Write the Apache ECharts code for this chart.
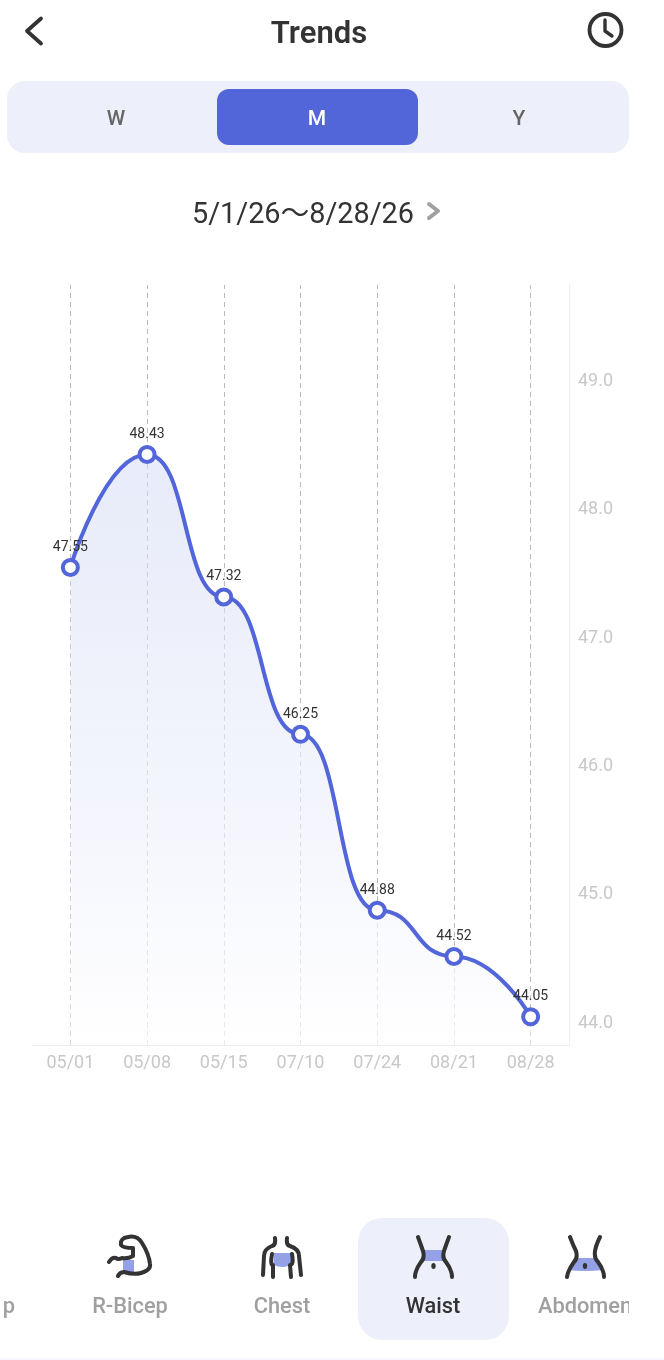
<!DOCTYPE html>
<html><head><meta charset="utf-8">
<script src="https://cdn.jsdelivr.net/npm/echarts@6/dist/echarts.min.js"></script>
<style>
html,body{margin:0;padding:0;background:#fff;width:664px;height:1360px;overflow:hidden;font-family:Roboto,"Noto Sans CJK SC",sans-serif}
#chart{position:absolute;left:0;top:0;width:664px;height:1360px}
.t{position:absolute;white-space:nowrap;transform:translate(-50%,-50%);line-height:1;will-change:transform}
.b{position:absolute}
svg{position:absolute;left:0;top:0;overflow:visible}
</style></head><body>
<div id="chart"></div>
<div class="b" style="left:7px;top:81px;width:622px;height:72px;border-radius:18px;background:#edeffb"></div>
<div class="b" style="left:217px;top:89px;width:201px;height:56px;border-radius:12px;background:#5266d9"></div>
<div class="b" style="left:358px;top:1218px;width:151px;height:122px;border-radius:24px;background:#edeffb"></div>
<div class="b" style="left:0;top:1358px;width:664px;height:2px;background:#f7f8fd"></div>
<div class="t" style="left:318.5px;top:31.5px;font-size:31px;font-weight:600;color:#333">Trends</div>
<div class="t" style="left:116px;top:117.5px;font-size:21px;font-weight:500;color:#666">W</div>
<div class="t" style="left:317px;top:117.5px;font-size:21px;font-weight:500;color:#fff">M</div>
<div class="t" style="left:519px;top:117.5px;font-size:21px;font-weight:500;color:#666">Y</div>
<div class="t" style="left:303px;top:212.5px;font-size:28.8px;color:#333">5/1/26～8/28/26</div>
<div class="t" style="left:130px;top:1306px;font-size:21.8px;font-weight:500;color:#a0a0a0">R-Bicep</div>
<div class="t" style="left:282px;top:1306px;font-size:21.8px;font-weight:500;color:#a0a0a0">Chest</div>
<div class="t" style="left:433px;top:1306px;font-size:21.8px;font-weight:500;color:#333">Waist</div>
<div class="b" style="left:520px;top:1290px;width:108.5px;height:34px;overflow:hidden"><div class="t" style="left:64.5px;top:16px;font-size:21.8px;font-weight:500;color:#a0a0a0">Abdomen</div></div>
<div class="b" style="left:4px;top:1290px;width:12px;height:34px;overflow:hidden"><div class="t" style="left:-26px;top:16px;font-size:21.8px;font-weight:500;color:#a0a0a0">L-Bicep</div></div>
<svg width="664" height="1360" fill="none" stroke-linecap="round" stroke-linejoin="round">
<path d="M41 18.5 L27 31 L41 43.5" stroke="#333" stroke-width="3.8"/>
<circle cx="605.5" cy="30" r="16" stroke="#333" stroke-width="3.8"/>
<path d="M605 20 V31 L612 36" stroke="#333" stroke-width="3.4"/>
<path d="M429 204 L438 211 L429 218" stroke="#a0a0a0" stroke-width="4"/>
<path d="M123 1260 H134 V1272 L123 1273 Z" fill="#94a1e6"/>
<path d="M118 1276 Q120 1272 124 1272 Q134 1275 141 1273 Q151 1270 150 1264 Q149 1254 142 1243 Q137 1235 128 1237 Q120 1238 121 1245 Q123 1248 133 1248 L133 1256 Q128 1259 122 1258 Q118 1260 116 1258 Q112 1257 109 1262" stroke="#333" stroke-width="4"/>
<path d="M274 1253 H292 V1265 Q285 1267 282 1267 Q278 1267 274 1265 Z" fill="#94a1e6"/>
<path d="M275 1238 Q276 1245 272 1246 Q264 1249 264 1256 L263 1275 M287 1238 Q286 1245 290 1246 Q299 1249 299 1256 L301 1275 M272 1254 Q270 1265 273 1265 L273 1277 M292 1254 Q294 1265 290 1265 L291 1277" stroke="#333" stroke-width="4"/>
<path d="M424 1250 H443 V1261 H424 Z" fill="#94a1e6"/>
<path d="M418 1237 Q421 1245 423 1251 Q425 1258 421 1262 Q415 1270 415 1277 M449 1237 Q446 1245 444 1251 Q442 1258 446 1262 Q452 1270 452 1277" stroke="#333" stroke-width="4"/>
<ellipse cx="433.5" cy="1266" rx="2.2" ry="3" fill="#333"/>
<path d="M574 1258 H597 L603 1270 Q585 1272 568 1270 Z" fill="#94a1e6"/>
<path d="M570 1237 Q573 1245 576 1251 Q578 1258 574 1262 Q568 1270 567 1277 M600 1237 Q596 1245 595 1251 Q594 1258 598 1262 Q604 1270 604 1277" stroke="#333" stroke-width="4"/>
<ellipse cx="585" cy="1266" rx="2.2" ry="3" fill="#333"/>
</svg>
<script>
const categories = ['05/01','05/08','05/15','07/10','07/24','08/21','08/28'];
const waistValues = [47.55,48.43,47.32,46.25,44.88,44.52,44.05];
const yTickValues = [44,45,46,47,48,49];
const chart = echarts.init(document.getElementById('chart'),null,{renderer:'canvas'});
chart.setOption({
  animation:false,
  grid:{left:32,right:95,top:285,bottom:315},
  xAxis:{type:'category',data:categories,boundaryGap:true,
    axisLine:{show:true,lineStyle:{color:'#eeeeee',width:1}},
    axisTick:{show:false},
    axisLabel:{color:'#c8c8c8',fontSize:18,fontFamily:'Roboto',margin:9}},
  yAxis:{type:'value',position:'right',min:43.83,max:49.75,
    axisLine:{show:true,lineStyle:{color:'#eeeeee',width:1}},
    axisTick:{show:false},splitLine:{show:false},
    axisLabel:{customValues:yTickValues,formatter:v=>v.toFixed(1),color:'#c8c8c8',fontSize:18,fontFamily:'Roboto',margin:9,padding:[2,0,0,0]}},
  series:[{
    type:'line',data:waistValues,smooth:0.55,smoothMonotone:'x',z:3,
    symbol:'circle',symbolSize:15,showSymbol:true,
    lineStyle:{color:'#5266d9',width:4},
    itemStyle:{color:'#fff',borderColor:'#5266d9',borderWidth:4},
    label:{show:true,position:'top',distance:3.5,color:'#333',fontSize:14,fontFamily:'Roboto'},
    areaStyle:{color:new echarts.graphic.LinearGradient(0,0,0,1,[
      {offset:0,color:'rgba(213,218,245,0.78)'},{offset:1,color:'rgba(255,255,255,1)'}])},
    markLine:{silent:true,symbol:'none',z:1,animation:false,label:{show:false},
      lineStyle:{type:[5,4],color:'#bbbbbb',width:1},
      data:categories.map(c=>({xAxis:c}))}
  }]
});
</script>
</body></html>
